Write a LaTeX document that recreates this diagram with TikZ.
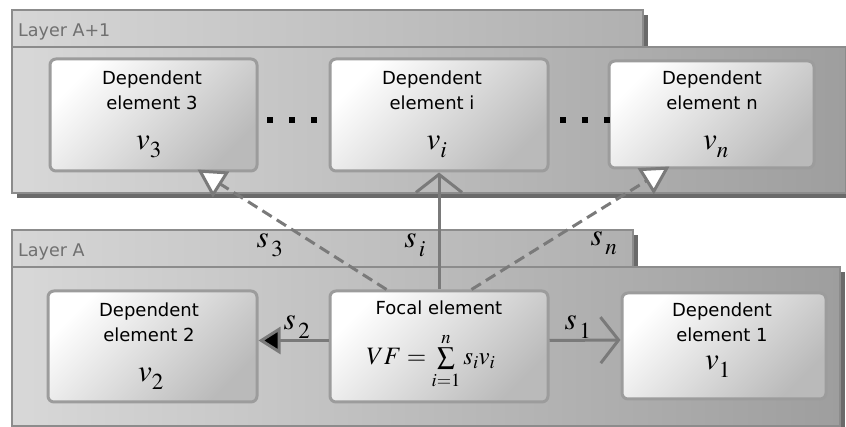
\documentclass[tikz,border=0pt]{standalone}
\usepackage{mathptmx}
\usepackage{fontspec}
\setmainfont{DejaVu Sans}
\usetikzlibrary{arrows.meta,calc}
\definecolor{layerL}{HTML}{D8D8D8}
\definecolor{layerR}{HTML}{9E9E9E}
\definecolor{tabL}{HTML}{D6D6D6}
\definecolor{tabR}{HTML}{B0B0B0}
\definecolor{layerEdge}{HTML}{8C8C8C}
\definecolor{shadowC}{HTML}{6A6A6A}
\definecolor{boxEdge}{HTML}{9C9C9C}
\definecolor{boxDark}{HTML}{BABABA}
\definecolor{arrowC}{HTML}{7A7A7A}
\definecolor{labelC}{HTML}{707070}
\newcommand\lsub[1]{_{\lower0.1em\hbox{$\scriptstyle #1$}}}
\newcommand\wsub[1]{_{\lower0.12em\hbox{$\scriptstyle\mkern2mu #1$}}}
\begin{document}
\begin{tikzpicture}[x=1pt,y=-1pt,
  shadowbox/.style={fill=shadowC},
  layerbox/.style={draw=layerEdge,line width=1.5pt,left color=layerL,right color=layerR},
  tabbox/.style={draw=layerEdge,line width=1.5pt,left color=tabL,right color=tabR},
  layerlabel/.style={text=labelC,anchor=base west,inner sep=0,font=\fontsize{17.5}{20}\selectfont},
  elem/.style={draw=boxEdge,line width=3pt,rounded corners=6pt,inner sep=0,
     top color=white,bottom color=boxDark,shading angle=45},
  txt/.style={anchor=base,inner sep=0,font=\fontsize{18}{20}\selectfont},
  mth/.style={anchor=base,inner sep=0,font=\fontsize{31}{34}\selectfont},
  lbl/.style={anchor=base,inner sep=0,font=\fontsize{31}{34}\selectfont},
  conn/.style={draw=arrowC,line width=3pt},
  dashconn/.style={conn,dash pattern=on 11pt off 6pt},
  opentri/.style={-{Triangle[fill=white,length=28pt,width=30pt,line width=3pt]}},
  barb/.style={-{Straight Barb[length=18pt,width=46pt,line width=3pt]}},
  solidtri/.style={-{Triangle[fill=black,length=22pt,width=27pt,line width=3pt]}},
  dotsq/.style={fill=black}
]
\useasboundingbox (0,0) rectangle (846,427);
% ---------- Layer A+1 ----------
\fill[shadowbox] (17,15) rectangle (648,52);
\fill[shadowbox] (17,52) rectangle (851,198);
\path[tabbox] (12,10) rectangle (643,47);
\path[layerbox] (12,47) rectangle (846,193);
\node[layerlabel] (lA1) at (18,37) {Layer A+1};
% ---------- Layer A ----------
\fill[shadowbox] (17,235) rectangle (638,272);
\fill[shadowbox] (17,272) rectangle (845,432);
\path[tabbox] (12,230) rectangle (633,267);
\path[layerbox] (12,267) rectangle (840,426);
\node[layerlabel] (lA) at (18,257) {Layer A};
% ---------- elements ----------
\node[elem,minimum width=207pt,minimum height=112pt] (e3) at (153.5,115) {};
\node[elem,minimum width=218pt,minimum height=112pt] (ei) at (439,115) {};
\node[elem,minimum width=205pt,minimum height=107pt] (en) at (711.5,114.5) {};
\node[elem,minimum width=209pt,minimum height=111pt] (e2) at (152.5,346.5) {};
\node[elem,minimum width=218pt,minimum height=111pt] (focal) at (439,346.5) {};
\node[elem,minimum width=204pt,minimum height=106pt] (e1) at (724,346) {};
% texts
\node[txt] (t3a) at (152,85) {Dependent};
\node[txt] (t3b) at (152,110) {element 3};
\node[mth] (v3) at (149,150) {$v\lsub{3}$};
\node[txt] (tia) at (432,85) {Dependent};
\node[txt] (tib) at (432,110) {element i};
\node[mth] (vi) at (437,150) {$v\lsub{i}$};
\node[txt] (tna) at (712,85) {Dependent};
\node[txt] (tnb) at (712,110) {element n};
\node[mth] (vn) at (716,150) {$v\lsub{n}$};
\node[txt] (t2a) at (149,317) {Dependent};
\node[txt] (t2b) at (149,342) {element 2};
\node[mth] (v2) at (151,382) {$v\lsub{2}$};
\node[txt] (tfa) at (439,315) {Focal element};
\node[anchor=base,inner sep=0,font=\fontsize{25}{30}\selectfont] (vf) at (431,365) {$VF=\sum\limits_{i=1}^{n} s_i v_i$};
\node[txt] (t1a) at (722,317) {Dependent};
\node[txt] (t1b) at (722,342) {element 1};
\node[mth] (v1) at (718,370) {$v\lsub{1}$};
% dots
\foreach \x in {267,289,311,560,582,604}{\fill[dotsq] (\x,117) rectangle ++(6,6);}
% ---------- connectors ----------
\draw[conn,barb] (focal.north) -- (ei.south);
\draw[dashconn,opentri] ($(focal.north west)+(58,0)$) -- ($(e3.south)+(44,-3)$);
\draw[dashconn,opentri] ($(focal.north west)+(143,0)$) -- ($(en.south)+(-42,-3)$);
\draw[conn,solidtri] ($(focal.west)+(0,-6)$) -- ($(e2.east)+(0,-6)$);
\draw[conn,barb] ($(focal.east)+(0,-6)$) -- ($(e1.west)+(0,-6)$);
% labels
\node[lbl] (s3) at (270,248) {$s\wsub{3}$};
\node[lbl] (si) at (415,248) {$s\wsub{i}$};
\node[lbl] (sn) at (604,246) {$s\wsub{n}$};
\node[lbl] (s2) at (297,330) {$s\wsub{2}$};
\node[lbl] (s1) at (578,330) {$s\wsub{1}$};
\end{tikzpicture}
\end{document}
